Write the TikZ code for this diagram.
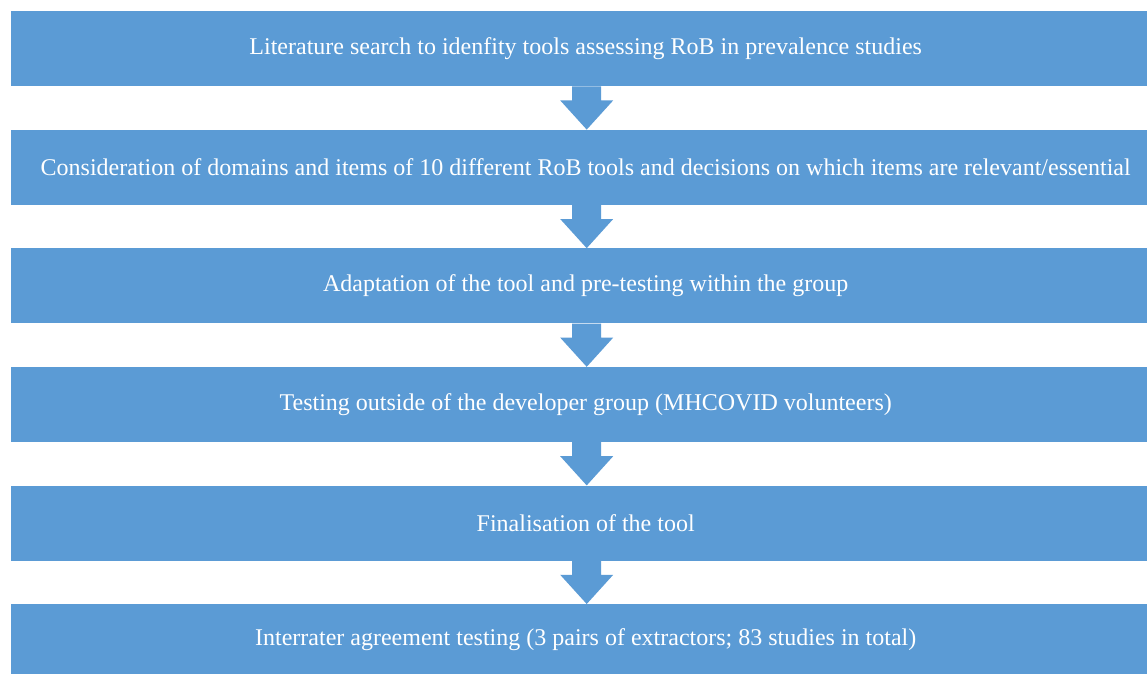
\documentclass[tikz,border=0pt]{standalone}
\usepackage{fontspec}
\setmainfont{Liberation Serif}
\usetikzlibrary{calc}
\definecolor{boxblue}{HTML}{5B9BD5}
\tikzset{
  stagebox/.style={fill=boxblue, draw=none, minimum width=1136pt, minimum height=75pt,
    inner sep=0pt, text=white, font=\fontsize{24}{28}\selectfont, anchor=north west,
    execute at begin node=\hspace*{13pt}},
  blockarrow/.style={fill=boxblue, draw=none}
}
\newcommand{\downarrowblock}[2]{%
  \fill[blockarrow] ($(#1.south)+(-7pt,0)$) -- ($(#1.south)+(22pt,0)$) --
    ($(#1.south)+(22pt,-14pt)$) -- ($(#1.south)+(34pt,-14pt)$) --
    ($(#2.north)+(7.5pt,0)$) --
    ($(#1.south)+(-19pt,-14pt)$) -- ($(#1.south)+(-7pt,-14pt)$) -- cycle;}
\begin{document}
\begin{tikzpicture}[x=1pt,y=-1pt]
\useasboundingbox (0,0) rectangle (1147,674);
\fill[white] (0,0) rectangle (1147,674);
\node[stagebox] (b1) at (11,11) {Literature search to idenfity tools assessing RoB in prevalence studies};
\node[stagebox] (b2) at (11,129.6) {Consideration of domains and items of 10 different RoB tools and decisions on which items are relevant/essential};
\node[stagebox] (b3) at (11,248.2) {Adaptation of the tool and pre-testing within the group};
\node[stagebox] (b4) at (11,366.8) {Testing outside of the developer group (MHCOVID volunteers)};
\node[stagebox] (b5) at (11,485.4) {Finalisation of the tool};
\node[stagebox, minimum height=70pt] (b6) at (11,604) {Interrater agreement testing (3 pairs of extractors; 83 studies in total)};
\downarrowblock{b1}{b2}
\downarrowblock{b2}{b3}
\downarrowblock{b3}{b4}
\downarrowblock{b4}{b5}
\downarrowblock{b5}{b6}
\end{tikzpicture}
\end{document}
